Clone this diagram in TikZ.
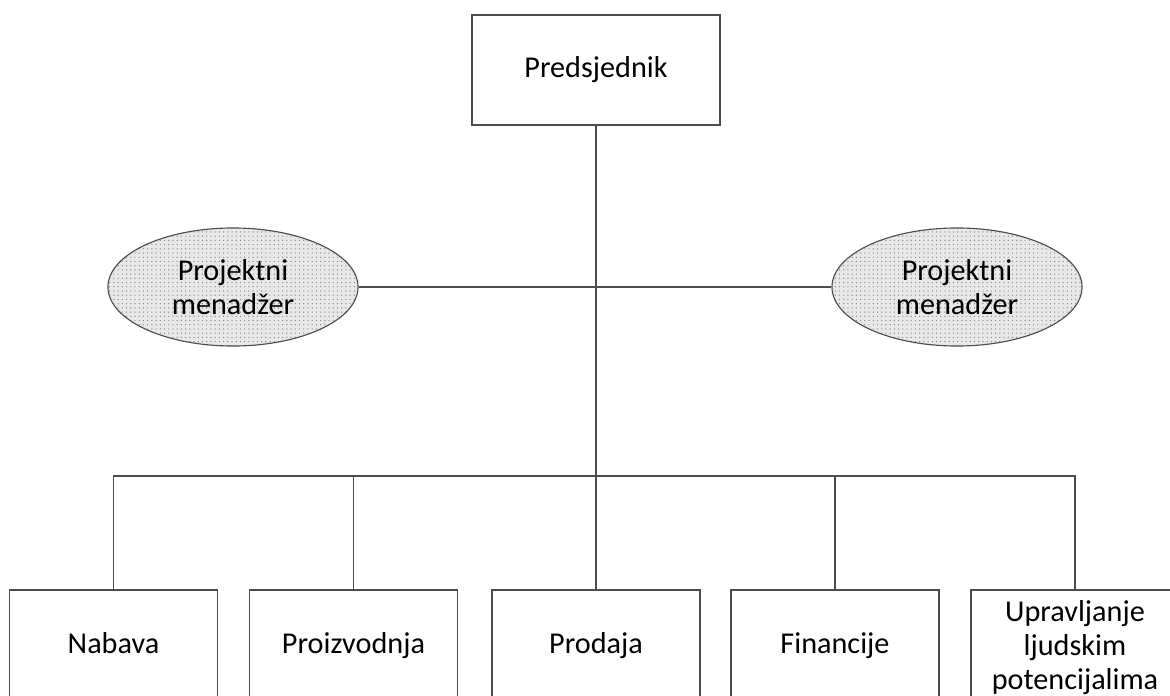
\documentclass[tikz,border=0pt]{standalone}
\usepackage{fontspec}
\setmainfont{Carlito}
\usepackage{xcolor}
\usepackage{tikz}
\usetikzlibrary{positioning,shapes.geometric,patterns}

\begin{document}
\begin{tikzpicture}[x=0.025cm, y=-0.025cm, font=\fontsize{21.5}{24.2}\selectfont,
  boxnode/.style={rectangle, draw=black!70, line width=0.8pt, fill=white, inner sep=0pt, minimum width=5.2cm, minimum height=2.9cm, align=center},
  deptnode/.style={boxnode, text height=0.8em, text depth=0pt},
  pmnode/.style={ellipse, draw=black!70, line width=0.8pt, preaction={fill=gray!18}, pattern=dots, pattern color=gray!90, inner sep=0pt, minimum width=6.25cm, minimum height=2.95cm, align=center},
  link/.style={draw=black!70, line width=0.8pt}]

\clip (0,0) rectangle (1170,696);
\fill[white] (0,0) rectangle (1170,696);

\coordinate (cross) at (596, 287);
\coordinate (bus) at (596, 476);

\node[deptnode, text height=1.1em, minimum width=6.2cm, minimum height=2.75cm] at (596, 70) (pres) {Predsjednik};
\node[pmnode] at (233, 287) (pm1) {Projektni\\menadžer};
\node[pmnode] at (957, 287) (pm2) {Projektni\\menadžer};

\node[deptnode] at (113.5, 648) (nabava) {Nabava};
\node[deptnode] at (353.5, 648) (proizv) {Proizvodnja};
\node[deptnode] at (596, 648) (prodaja) {Prodaja};
\node[deptnode] at (835, 648) (financ) {Financije};
\node[boxnode] at (1075, 648) (uplp) {Upravljanje\\ljudskim\\potencijalima};

\draw[link] (pres.south) -- (bus);
\draw[link] (pm1.east) -- (pm2.west);
\draw[link] (bus) -- (prodaja.north);
\draw[link] (bus) -| (nabava.north);
\draw[link] (bus) -| (proizv.north);
\draw[link] (bus) -| (financ.north);
\draw[link] (bus) -| (uplp.north);

\end{tikzpicture}
\end{document}
